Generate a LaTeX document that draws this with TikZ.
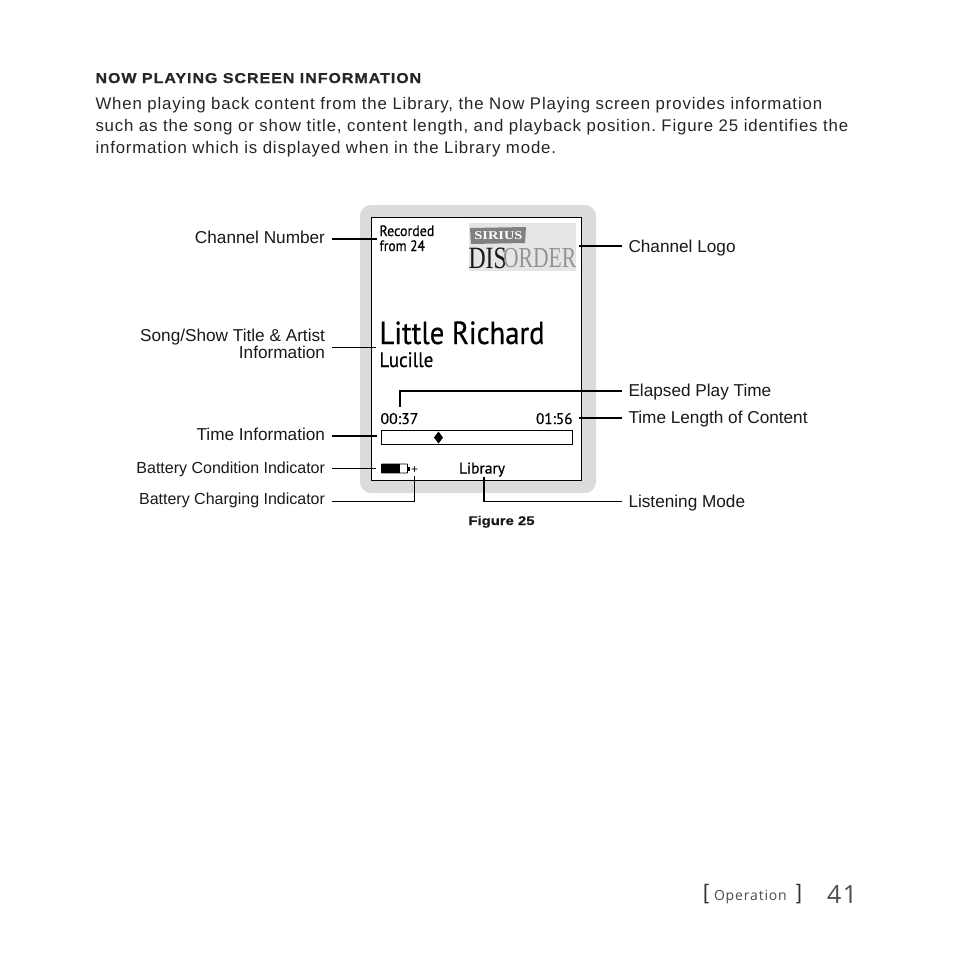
\documentclass[tikz,border=0pt]{standalone}
\usepackage{fontspec}
\usetikzlibrary{shapes.geometric}
\setmainfont{Liberation Sans}
\newfontfamily\bodyfont[LetterSpace=5]{Liberation Sans}
\newfontfamily\headfont[LetterSpace=6,FakeBold=0.6]{Liberation Sans}
\newfontfamily\figfont[FakeBold=0.6]{Liberation Sans}
\newfontfamily\lcdfont[FakeBold=0.5]{PT Sans}
\newfontfamily\logofont{Liberation Serif}
\newfontfamily\opfont[LetterSpace=6]{Open Sans}
\frenchspacing
\begin{document}
\begin{tikzpicture}[x=1pt,y=-1pt,
  txt/.style={inner sep=0pt,outer sep=0pt},
  para/.style={txt,anchor=base west,font=\bodyfont\fontsize{16.8}{22}\selectfont,text=black!85},
  lbl/.style={txt,font=\fontsize{17.2}{17}\selectfont,text=black!90},
  lblr/.style={lbl,anchor=base east,align=right},
  lbll/.style={lbl,anchor=base west},
  small/.style={lblr,font=\fontsize{16}{17}\selectfont},
  lead/.style={line width=1.9pt,black},
  leadh/.style={line width=2.2pt,black},
  lcd/.style={txt,anchor=base west,font=\lcdfont,text=black}]
\useasboundingbox (0,0) rectangle (954,954);
\fill[white] (0,0) rectangle (954,954);
% page text
\node[txt,anchor=base west,font=\headfont\bfseries\fontsize{14.3}{16}\selectfont,text=black!85] (head) at (95.5,83) {\scalebox{1.12}[1]{NOW PLAYING SCREEN INFORMATION}};
\node[para] (p1) at (95.5,109) {When playing back content from the Library, the Now Playing screen provides information};
\node[para] (p2) at (95.5,131) {such as the song or show title, content length, and playback position. Figure 25 identifies the};
\node[para] (p3) at (95.5,153) {information which is displayed when in the Library mode.};
% device
\fill[black!14,rounded corners=11pt] (360,205) rectangle (596,493);
\node[draw=black,line width=1pt,fill=white,txt,anchor=north west,minimum width=210pt,minimum height=263pt] (screen) at (371.5,217.5) {};
% logo
\fill[black!10] (469,223) rectangle (576,271);
\fill[black!50] (470,228) -- (526,227) -- (525,243) -- (471,244) -- cycle;
\node[txt,font=\logofont\bfseries\fontsize{12}{12}\selectfont,text=white] (sirius) at (498.5,235.5) {\scalebox{1.2}[1]{SIRIUS}};
\node[txt,anchor=base west,font=\logofont\fontsize{31}{24}\selectfont,text=black!90,text height=20pt,text depth=0pt] (dis) at (468.5,268) {\scalebox{0.766}[1]{DIS}};
\node[txt,anchor=base west,font=\logofont\fontsize{29}{24}\selectfont,text=black!42,text height=19pt,text depth=0pt] (order) at (503,267.5) {\scalebox{0.745}[1]{ORDER}};
% screen text
\node[lcd,font=\lcdfont\fontsize{15}{15}\selectfont] (rec) at (379.5,236) {\scalebox{0.93}[1]{Recorded}};
\node[lcd,font=\lcdfont\fontsize{15}{15}\selectfont] (from) at (379.5,251) {\scalebox{0.9}[1]{from 24}};
\node[lcd,font=\lcdfont\fontsize{32}{32}\selectfont] (title) at (379.5,344) {\scalebox{0.895}[1]{Little Richard}};
\node[lcd,font=\lcdfont\fontsize{21}{21}\selectfont] (song) at (379.5,367) {\scalebox{0.9}[1]{Lucille}};
\node[lcd,font=\lcdfont\fontsize{15.5}{15}\selectfont] (t1) at (380.5,424) {\scalebox{1.02}[1]{00:37}};
\node[lcd,anchor=base east,font=\lcdfont\fontsize{15.5}{15}\selectfont] (t2) at (572.5,424) {\scalebox{0.98}[1]{01:56}};
\node[draw=black,line width=0.8pt,txt,anchor=north west,minimum width=191pt,minimum height=14pt] (bar) at (381.5,430.5) {};
\node[diamond,fill=black,txt,minimum width=9pt,minimum height=12pt] (mark) at (438.5,437.5) {};
\node[draw=black,line width=0.8pt,txt,anchor=west,minimum width=26pt,minimum height=9pt,rounded corners=0.5pt] (batt) at (381.5,468.5) {};
\fill[black] (381.5,464) rectangle (399.5,473);
\fill[black] (408,466.5) rectangle (409.5,470.5);
\node[lcd,font=\fontsize{12}{12}\selectfont] (plus) at (411,473) {+};
\node[lcd,font=\lcdfont\fontsize{15.5}{15}\selectfont] (lib) at (459,473.5) {Library};
% labels
\node[lblr] (lchan) at (325,243) {Channel Number};
\node[lblr] (lsong) at (325,341) {Song/Show Title \& Artist};
\node[lblr] (linfo) at (325,358) {Information};
\node[lblr] (ltime) at (325,440) {Time Information};
\node[small] (lbc) at (325,473) {Battery Condition Indicator};
\node[small] (lbch) at (325,504) {Battery Charging Indicator};
\node[lbll] (rlogo) at (628.5,252) {Channel Logo};
\node[lbll] (rel) at (628.5,396) {Elapsed Play Time};
\node[lbll] (rlen) at (628.5,423) {Time Length of Content};
\node[lbll] (rmode) at (628.5,507) {Listening Mode};
\node[txt,font=\figfont\bfseries\fontsize{12.6}{14}\selectfont,text=black!90,anchor=base] (fig) at (501.5,525) {\scalebox{1.18}[1]{Figure 25}};
% footer
\node[txt,anchor=base west,font=\opfont\fontsize{14}{16}\selectfont,text=black!70] (op) at (714,900) {Operation};
\node[txt,anchor=base,font=\fontsize{21}{21}\selectfont,text=black!80] (lb) at (706,899) {[};
\node[txt,anchor=base,font=\fontsize{21}{21}\selectfont,text=black!80] (rb) at (799,899) {]};
\node[txt,anchor=base west,font=\opfont\fontsize{25}{25}\selectfont,text=black!70] (pg) at (827,903) {41};
% connectors
\coordinate (c1) at (377,239);
\coordinate (c2) at (376,347.5);
\coordinate (c3) at (377,436);
\coordinate (c4) at (376,468.5);
\coordinate (c5a) at (332,501.5);
\coordinate (c5b) at (414.5,501.5);
\coordinate (c5c) at (414.5,476);
\coordinate (c6a) at (622,501.5);
\coordinate (c6b) at (484,501.5);
\coordinate (c6c) at (484,477);
\coordinate (c7a) at (622,391);
\coordinate (c7b) at (400,391);
\coordinate (c7c) at (400,407);
\coordinate (c8a) at (622,418);
\coordinate (c8b) at (579,418);
\coordinate (c9a) at (622,246);
\coordinate (c9b) at (579,246);
\coordinate (l1) at (332,239);
\coordinate (l2) at (332,347.5);
\coordinate (l3) at (332,436);
\coordinate (l4) at (332,468.5);
\draw[leadh] (l1) -- (c1);
\draw[lead] (l2) -- (c2);
\draw[leadh] (l3) -- (c3);
\draw[lead] (l4) -- (c4);
\draw[lead] (c5a) -- (c5b) -- (c5c);
\draw[lead] (c6a) -- (c6b) -- (c6c);
\draw[lead] (c7a) -- (c7b) -- (c7c);
\draw[lead] (c8a) -- (c8b);
\draw[lead] (c9a) -- (c9b);
\end{tikzpicture}
\end{document}
